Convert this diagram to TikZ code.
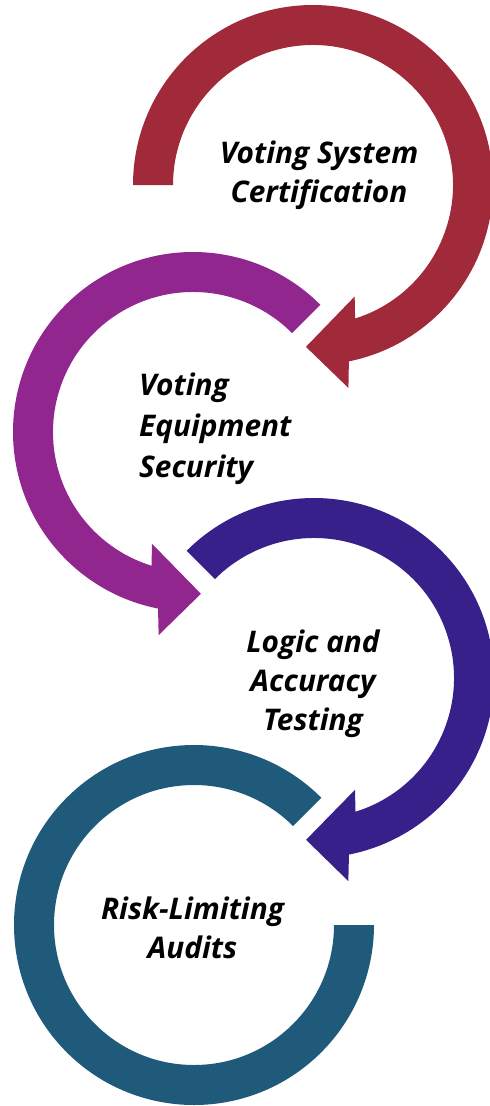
\documentclass[tikz,border=0pt]{standalone}
\usepackage{fontspec}
\setmainfont{Open Sans}
\usepackage{tikz}
\definecolor{certred}{RGB}{160,41,58}
\definecolor{equippurple}{RGB}{146,38,143}
\definecolor{testindigo}{RGB}{56,32,138}
\definecolor{auditteal}{RGB}{31,90,122}
% ring radii (pt)
\newcommand{\rinner}{140}
\newcommand{\router}{180}
% circular arrow: centre, start angle, tip angle, turn (+1 ccw, -1 cw), colour
\newcommand{\circarrow}[5]{%
\begin{scope}[shift={(#1)}]
\fill[#5] (#2:\router) arc[start angle=#2, end angle={#3-(#4)*14}, radius=\router]
  -- ({#3-(#4)*12.4}:206) -- (#3:162) -- ({#3-(#4)*23}:119) -- ({#3-(#4)*20}:\rinner)
  arc[start angle={#3-(#4)*20}, end angle=#2, radius=\rinner] -- cycle;
\end{scope}}
\tikzset{steplabel/.style={inner sep=0pt, font=\fontsize{29.8}{39}\selectfont\bfseries\itshape}}

\begin{document}
\begin{tikzpicture}[x=1pt,y=1pt]
\useasboundingbox (0,0) rectangle (490,-1106);
\clip (0,0) rectangle (490,-1106);
% the three arrows, top to bottom
\circarrow{313,-185}{180}{-92.5}{-1}{certred}
\circarrow{193,-432}{45}{272.8}{1}{equippurple}
\circarrow{314,-678}{135}{-92.8}{-1}{testindigo}
% last step: open ring, no head
\fill[auditteal] (194,-925) ++(45:\router) arc[start angle=45, end angle=360, radius=\router]
  -- ++(-40,0) arc[start angle=360, end angle=45, radius=\rinner] -- cycle;
% labels
\node[steplabel, align=center] (cert) at (319,-175.5) {Voting System\\Certification};
\node[steplabel, align=left, anchor=west,
  font=\fontsize{29.8}{41}\selectfont\bfseries\itshape] (equip) at (139,-429) {Voting\\Equipment\\Security};
\node[steplabel, align=center] (logic) at (313,-684) {Logic and\\Accuracy\\Testing};
\node[steplabel, align=center] (audit) at (192.5,-928) {Risk-Limiting\\Audits};
\end{tikzpicture}
\end{document}
